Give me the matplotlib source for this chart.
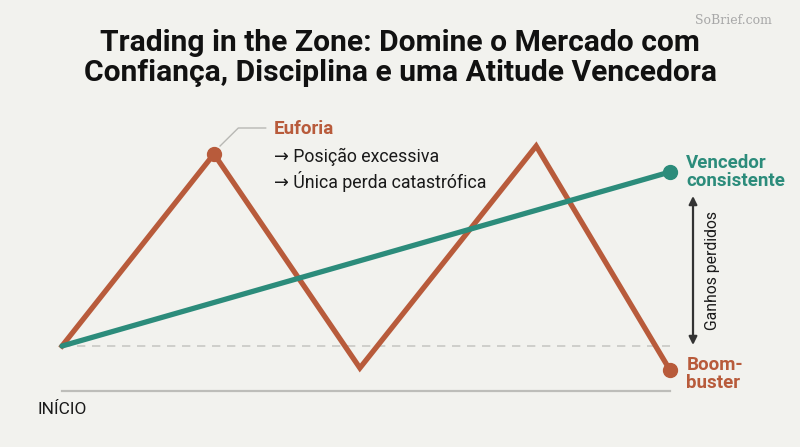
import matplotlib
matplotlib.use("Agg")
import matplotlib.pyplot as plt

# Data (time on 0-10 scale, value relative to start)
boom_x = [0, 2.5, 4.9, 7.8, 10]
boom_y = [0, 96, -11, 100, -12]
win_x = [0, 10]
win_y = [0, 87]
title = "Trading in the Zone: Domine o Mercado com\nConfiança, Disciplina e uma Atitude Vencedora"

ORANGE = "#B85B3B"
TEAL = "#2C8C7B"
BG = "#F2F2EE"
DARK = "#1A1A1A"

fig = plt.figure(figsize=(8, 4.47), dpi=100, facecolor=BG)
ax = fig.add_axes([0, 0, 1, 1])
ax.set_facecolor(BG)
ax.set_xlim(-1.02, 12.14)
ax.set_ylim(-50.5, 173)
ax.axis("off")

FONT = ["Roboto", "DejaVu Sans"]

# baselines
ax.plot([0, 10], [0, 0], color="#C8C8C4", lw=1.2, ls=(0, (5, 4)), zorder=1)
ax.plot([0, 10], [-22.5, -22.5], color="#BDBDB9", lw=1.6, zorder=1)

# lines
ax.plot(boom_x, boom_y, color=ORANGE, lw=3.8, solid_joinstyle="miter", zorder=3)
ax.plot(win_x, win_y, color=TEAL, lw=3.8, solid_capstyle="round", zorder=4)
ax.plot([boom_x[1], boom_x[-1]], [boom_y[1], boom_y[-1]], "o", color=ORANGE, ms=10, zorder=5)
ax.plot([win_x[-1]], [win_y[-1]], "o", color=TEAL, ms=10, zorder=5)

# Euforia annotation connector
ax.plot([boom_x[1] + 0.1, 2.9, 3.35], [boom_y[1] + 4, 109, 109], color="#B8B8B4", lw=1.0, zorder=2)
ax.text(3.48, 108.5, "Euforia", color=ORANGE, fontsize=13.5, fontweight="bold",
        family=FONT, va="center", ha="left")
ax.text(3.48, 94.5, "→ Posição excessiva", color=DARK, fontsize=12.8,
        family=FONT, va="center", ha="left")
ax.text(3.48, 82.5, "→ Única perda catastrófica", color=DARK, fontsize=12.8,
        family=FONT, va="center", ha="left")

# right labels
ax.text(10.27, 87, "Vencedor\nconsistente", color=TEAL, fontsize=13.5, fontweight="bold",
        family=FONT, va="center", ha="left", linespacing=0.95)
ax.text(10.27, -14, "Boom-\nbuster", color=ORANGE, fontsize=13.5, fontweight="bold",
        family=FONT, va="center", ha="left", linespacing=0.95)

# gains lost arrow
ax.annotate("", xy=(10.38, 75), xytext=(10.38, 0.5),
            arrowprops=dict(arrowstyle="<|-|>", color="#333333", lw=1.6,
                            mutation_scale=12, shrinkA=0, shrinkB=0))
ax.text(10.7, 38, "Ganhos perdidos", color=DARK, fontsize=11.3, family=FONT,
        rotation=90, va="center", ha="center")

# start label
ax.text(-0.4, -32, "INÍCIO", color=DARK, fontsize=12.5, family=FONT,
        va="center", ha="left")

# title
fig.text(0.5, 0.870, title, ha="center", va="center", fontsize=21.6, fontweight="bold",
         family=FONT, color="#111111", linespacing=1.08)

fig.text(0.965, 0.955, "SoBrief.com", ha="right", va="center", fontsize=9,
         family=["DejaVu Serif"], color="#A8A8A8")

fig.savefig("out.png", dpi=100, facecolor=BG)
